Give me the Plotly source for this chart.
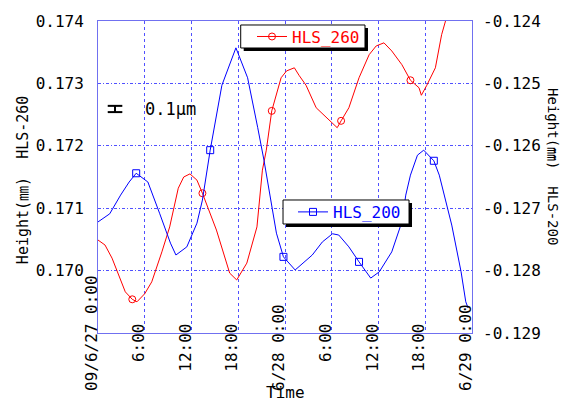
import pandas as pd
import plotly.graph_objects as go

# ---------------- data ----------------
START = pd.Timestamp("2009-06-27 00:00")

hls260_hours = [0.0, 0.9, 1.8, 2.6, 3.5, 4.4, 5.0, 6.0, 6.9, 8.2, 9.2, 10.3, 11.0, 11.8,
                12.7, 13.4, 15.2, 16.9, 17.8, 19.1, 20.4, 21.1, 21.6, 22.3, 23.5, 24.2,
                25.2, 25.8, 26.7, 28.0, 29.7, 30.7, 31.2, 32.2, 33.5, 34.8, 35.7, 36.7,
                37.7, 39.0, 40.1, 41.2, 41.5, 42.2, 43.3, 44.1, 44.6, 45.1]
hls260_values = [0.17049, 0.17041, 0.17020, 0.16993, 0.16966, 0.16954, 0.16950, 0.16963,
                 0.16982, 0.17030, 0.17070, 0.17132, 0.17150, 0.17155, 0.17145, 0.17124,
                 0.17065, 0.16996, 0.16985, 0.17012, 0.17070, 0.17161, 0.17193, 0.17256,
                 0.17309, 0.17320, 0.17325, 0.17313, 0.17297, 0.17261, 0.17240, 0.17229,
                 0.17240, 0.17261, 0.17309, 0.17346, 0.17360, 0.17365, 0.17352, 0.17330,
                 0.17305, 0.17293, 0.17281, 0.17297, 0.17325, 0.17378, 0.17400, 0.17418]
hls260_marker_hours = [4.4, 13.4, 22.3, 31.2, 40.1]

hls200_hours = [0.0, 1.5, 2.9, 4.0, 4.9, 6.4, 7.9, 9.3, 10.0, 11.4, 12.7, 13.4, 14.4, 15.9,
                17.7, 19.2, 20.5, 21.3, 22.9, 23.8, 25.3, 27.5, 28.8, 30.1, 30.9, 32.2,
                33.5, 35.0, 36.1, 37.7, 39.0, 39.5, 40.1, 41.0, 41.8, 43.1, 43.8, 45.4,
                46.6, 47.2, 47.5]
hls200_values = [-0.12722, -0.12709, -0.12679, -0.12658, -0.12644, -0.12658, -0.12708,
                 -0.12756, -0.12775, -0.12762, -0.12724, -0.12687, -0.12607, -0.12503,
                 -0.12443, -0.12491, -0.12571, -0.12623, -0.12740, -0.12778, -0.12799,
                 -0.12775, -0.12754, -0.12741, -0.12743, -0.12762, -0.12786, -0.12812,
                 -0.12802, -0.12770, -0.12722, -0.12679, -0.12647, -0.12615, -0.12607,
                 -0.12624, -0.12647, -0.12727, -0.12802, -0.12850, -0.12860]
hls200_marker_hours = [4.9, 14.4, 23.8, 33.5, 43.1]

x_tick_hours = [0, 6, 12, 18, 24, 30, 36, 42, 48]
x_tick_labels = ["09/6/27 0:00", "6:00", "12:00", "18:00", "6/28 0:00",
                 "6:00", "12:00", "18:00", "6/29 0:00"]

y_left_ticks = [0.169, 0.170, 0.171, 0.172, 0.173, 0.174]
y_left_labels = ["", "0.170", "0.171", "0.172", "0.173", "0.174"]
y_right_ticks = [-0.129, -0.128, -0.127, -0.126, -0.125, -0.124]
y_right_labels = ["-0.129", "-0.128", "-0.127", "-0.126", "-0.125", "-0.124"]

scale_bar_mm = 0.0001      # 0.1 µm
scale_bar_base = 0.17254

# ---------------- helpers ----------------
def to_time(hours):
    return [START + pd.Timedelta(hours=h) for h in hours]

lookup260 = dict(zip(hls260_hours, hls260_values))
lookup200 = dict(zip(hls200_hours, hls200_values))

RED = "#ff0000"
BLUE = "#0000ff"
GRID = "#5050ff"
BORDER = "#7070f0"
FONT = "DejaVu Sans Mono, Noto Sans CJK JP, monospace"

# trailing no-break spaces shift the rotated labels along their length
label_pad = [0, 5, 5, 5, 3, 5, 5, 5, 3]
x_tick_text = [t + "\u00a0" * p for t, p in zip(x_tick_labels, label_pad)]

fig = go.Figure()

# HLS_260 (left axis)
fig.add_trace(go.Scatter(x=to_time(hls260_hours), y=hls260_values, mode="lines",
                         line=dict(color=RED, width=1), showlegend=False,
                         yaxis="y", hoverinfo="skip"))
fig.add_trace(go.Scatter(x=to_time(hls260_marker_hours),
                         y=[lookup260[h] for h in hls260_marker_hours], mode="markers",
                         marker=dict(symbol="circle-open", size=7, color=RED,
                                     line=dict(width=1, color=RED)),
                         showlegend=False, yaxis="y"))
fig.add_trace(go.Scatter(x=[None], y=[None], mode="lines+markers", name="HLS_260",
                         line=dict(color=RED, width=1),
                         marker=dict(symbol="circle-open", size=7, color=RED,
                                     line=dict(width=1, color=RED)),
                         legend="legend", yaxis="y"))

# HLS_200 (right axis)
fig.add_trace(go.Scatter(x=to_time(hls200_hours), y=hls200_values, mode="lines",
                         line=dict(color=BLUE, width=1), showlegend=False,
                         yaxis="y2", hoverinfo="skip"))
fig.add_trace(go.Scatter(x=to_time(hls200_marker_hours),
                         y=[lookup200[h] for h in hls200_marker_hours], mode="markers",
                         marker=dict(symbol="square-open", size=7, color=BLUE,
                                     line=dict(width=1, color=BLUE)),
                         showlegend=False, yaxis="y2"))
fig.add_trace(go.Scatter(x=[None], y=[None], mode="lines+markers", name="HLS_200",
                         line=dict(color=BLUE, width=1),
                         marker=dict(symbol="square-open", size=7, color=BLUE,
                                     line=dict(width=1, color=BLUE)),
                         legend="legend2", yaxis="y2"))

fig.update_layout(
    template="none",
    width=563, height=395,
    margin=dict(l=90, r=99, t=13, b=70, autoexpand=False),
    plot_bgcolor="white", paper_bgcolor="white",
    font=dict(family=FONT, size=16, color="black"),
    xaxis=dict(type="date", range=[START, START + pd.Timedelta(hours=48)],
               tickmode="array", tickvals=to_time(x_tick_hours), ticktext=x_tick_text,
               tickangle=-90, ticks="", showgrid=True, gridcolor=GRID, griddash="dot",
               gridwidth=1, showline=True, linecolor=BORDER, linewidth=1, mirror=True,
               zeroline=False, automargin=False, ticklabelstandoff=-65,
               ticklabelshift=-6),
    yaxis=dict(range=[0.169, 0.174], tickmode="array", tickvals=y_left_ticks,
               ticktext=y_left_labels, ticks="", showgrid=True, gridcolor=GRID,
               griddash="3px,2px,1px,2px", gridwidth=1, showline=True, linecolor=BORDER,
               linewidth=1, mirror=True, zeroline=False, automargin=False,
               ticklabelstandoff=10),
    yaxis2=dict(range=[-0.129, -0.124], overlaying="y", side="right", tickmode="array",
                tickvals=y_right_ticks, ticktext=y_right_labels, ticks="", showgrid=False,
                showline=False, zeroline=False, automargin=False, ticklabelstandoff=10),
    legend=dict(x=0.4118, y=1.0045, xanchor="left", yanchor="top",
                bgcolor="rgba(0,0,0,0)", borderwidth=0,
                font=dict(color=RED, size=16, family=FONT)),
    legend2=dict(x=0.5214, y=0.4423, xanchor="left", yanchor="top",
                 bgcolor="rgba(0,0,0,0)", borderwidth=0,
                 font=dict(color=BLUE, size=16, family=FONT)),
    showlegend=True,
)

# axis titles
fig.add_annotation(text="Height(㎜)\u00a0\u00a0HLS-260", xref="paper", yref="paper",
                   x=-0.2005, y=0.49, textangle=-90, showarrow=False,
                   xanchor="center", yanchor="middle", font=dict(size=15))
fig.add_annotation(text="Height(㎜)\u00a0\u00a0HLS-200", xref="paper", yref="paper",
                   x=1.2166, y=0.535, textangle=90, showarrow=False,
                   xanchor="center", yanchor="middle", font=dict(size=14))
fig.add_annotation(text="Time", xref="paper", yref="paper", x=0.5, y=-0.1923,
                   showarrow=False, xanchor="center", yanchor="middle", font=dict(size=16))

# scale bar "0.1 µm"
fig.add_annotation(text="0.1μm", xref="paper", yref="paper", x=0.1203, y=0.718,
                   showarrow=False, xanchor="left", yanchor="middle", font=dict(size=17))
bar = dict(color="black", width=2)
fig.add_shape(type="line", xref="paper", yref="y", x0=0.026, x1=0.065,
              y0=scale_bar_base, y1=scale_bar_base, line=bar)
fig.add_shape(type="line", xref="paper", yref="y", x0=0.026, x1=0.065,
              y0=scale_bar_base + scale_bar_mm, y1=scale_bar_base + scale_bar_mm, line=bar)
fig.add_shape(type="line", xref="paper", yref="y", x0=0.0455, x1=0.0455,
              y0=scale_bar_base, y1=scale_bar_base + scale_bar_mm, line=bar)

# legend boxes with drop shadows (legend itself is transparent on top)
fig.add_shape(type="rect", xref="paper", yref="paper", x0=0.3896, x1=0.7219,
              y0=0.9038, y1=0.9776, fillcolor="black", line=dict(width=0), layer="above")
fig.add_shape(type="rect", xref="paper", yref="paper", x0=0.3816, x1=0.7139,
              y0=0.9135, y1=0.9872, fillcolor="white", line=dict(color="black", width=1),
              layer="above")
fig.add_shape(type="rect", xref="paper", yref="paper", x0=0.5027, x1=0.8396,
              y0=0.3397, y1=0.4167, fillcolor="black", line=dict(width=0), layer="above")
fig.add_shape(type="rect", xref="paper", yref="paper", x0=0.4947, x1=0.8316,
              y0=0.3494, y1=0.4263, fillcolor="white", line=dict(color="black", width=1),
              layer="above")

fig.write_html("out.html")
